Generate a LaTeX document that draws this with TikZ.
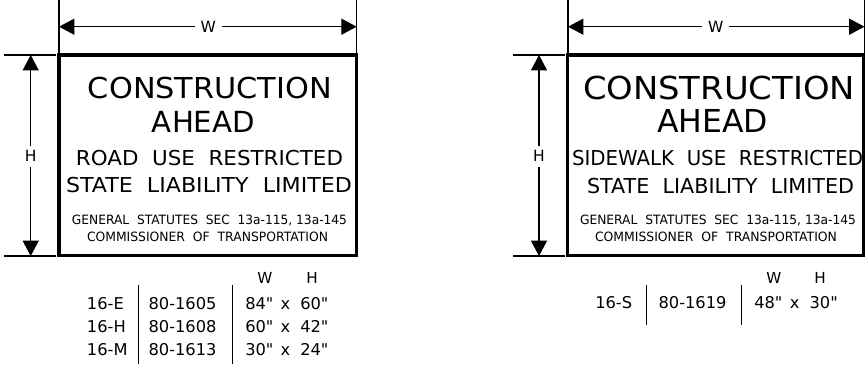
\documentclass[tikz,border=0pt]{standalone}
\usepackage{fontspec}
\setmainfont{DejaVu Sans}
\usepackage{graphicx}
\usetikzlibrary{arrows.meta}
\newdimen\pxu \pxu=0.75pt
\newcommand{\signline}[3]{\resizebox{#1\pxu}{\height}{\fontsize{#2}{#2}\selectfont #3}}
\font\tabfnt="DejaVu Sans" at 12.2pt
\begin{document}
\begin{tikzpicture}[x=0.75pt,y=-0.75pt,
  dimline/.style={line width=0.8pt},
  tip/.style={dimline,-{Triangle[length=11.5pt,width=12pt]}},
  signbox/.style={line width=2.4pt},
  dimlabel/.style={inner xsep=4pt,inner ysep=3.4pt,font=\fontsize{11.6}{11.6}\selectfont},
  txt/.style={anchor=base,inner sep=0pt},
  tab/.style={anchor=base west,inner sep=0pt,font=\tabfnt},
  tabc/.style={anchor=base,inner sep=0pt,font=\tabfnt},
  head/.style={anchor=base,inner sep=0pt,font=\fontsize{11.4}{11.4}\selectfont}]
\useasboundingbox (0,0) rectangle (866,364);

% ---------------- left sign ----------------
\draw[signbox] (59,55) rectangle (356.5,255.5);
% width dimension
\coordinate (lwa) at (59,26.7);
\coordinate (lwb) at (356.7,26.7);
\node[dimlabel] (lw) at (208.3,26.7) {W};
\draw[tip] (lw.west) -- (lwa);
\draw[tip] (lw.east) -- (lwb);
\draw[dimline] (59,0) -- (59,53);
\draw[dimline] (356.7,0) -- (356.7,53);
% height dimension
\coordinate (lha) at (30.7,55);
\coordinate (lhb) at (30.7,256);
\node[dimlabel] (lh) at (30.7,156.3) {H};
\draw[tip] (lh.north) -- (lha);
\draw[tip] (lh.south) -- (lhb);
\draw[dimline] (4,55) -- (56,55);
\draw[dimline] (4,256) -- (56,256);
% sign text
\node[txt] (l1) at (210,98) {\signline{244}{21.6}{CONSTRUCTION}};
\node[txt] (l2) at (203.5,132) {\signline{103}{21.8}{AHEAD}};
\node[txt] (l3) at (209.5,165.7) {\signline{267}{15.4}{ROAD~~USE~~RESTRICTED}};
\node[txt] (l4) at (209,192.7) {\signline{286}{15.4}{STATE~~LIABILITY~~LIMITED}};
\node[txt] (l5) at (209.5,224.3) {\signline{275}{9.6}{GENERAL~~STATUTES~~SEC~~13a-115,~13a-145}};
\node[txt] (l6) at (207.5,241) {\signline{241}{9.6}{COMMISSIONER~~OF~~TRANSPORTATION}};
% table
\node[head] (lW) at (265,283.3) {W};
\node[head] (lH) at (312,283.3) {H};
\draw[dimline] (138.3,285) -- (138.3,364);
\draw[dimline] (232.7,285) -- (232.7,364);
\node[tab] (le1) at (86.7,309.3) {16-E};
\node[tab] (le2) at (86.7,332.5) {16-H};
\node[tab] (le3) at (86.7,355.7) {16-M};
\node[tab] (ln1) at (148.3,309.3) {80-1605};
\node[tab] (ln2) at (148.3,332.5) {80-1608};
\node[tab] (ln3) at (148.3,355.7) {80-1613};
\node[tab] (lw1) at (245,309.3) {84"};
\node[tab] (lw2) at (245,332.5) {60"};
\node[tab] (lw3) at (245,355.7) {30"};
\node[tabc] (lx1) at (285.4,309.3) {x};
\node[tabc] (lx2) at (285.4,332.5) {x};
\node[tabc] (lx3) at (285.4,355.7) {x};
\node[tab] (lh1) at (300,309.3) {60"};
\node[tab] (lh2) at (300,332.5) {42"};
\node[tab] (lh3) at (300,355.7) {24"};

% ---------------- right sign ----------------
\draw[signbox] (567.7,55) rectangle (863.3,255.5);
\coordinate (rwa) at (568,26.7);
\coordinate (rwb) at (864.5,26.7);
\node[dimlabel] (rw) at (715.7,26.7) {W};
\draw[tip] (rw.west) -- (rwa);
\draw[tip] (rw.east) -- (rwb);
\draw[dimline] (568,0) -- (568,53);
\draw[dimline] (864.5,0) -- (864.5,53);
\coordinate (rha) at (539,55);
\coordinate (rhb) at (539,256);
\node[dimlabel] (rh) at (539,156.3) {H};
\draw[tip] (rh.north) -- (rha);
\draw[tip] (rh.south) -- (rhb);
\draw[dimline] (513,55) -- (565,55);
\draw[dimline] (513,256) -- (565,256);
\node[txt] (r1) at (719,99) {\signline{272}{23.7}{CONSTRUCTION}};
\node[txt] (r2) at (712.5,132.3) {\signline{111}{23.7}{AHEAD}};
\node[txt] (r3) at (717.5,165.7) {\signline{291}{15.4}{SIDEWALK~~USE~~RESTRICTED}};
\node[txt] (r4) at (720.5,193.3) {\signline{267}{15.4}{STATE~~LIABILITY~~LIMITED}};
\node[txt] (r5) at (718,224) {\signline{276}{9.6}{GENERAL~~STATUTES~~SEC~~13a-115,~13a-145}};
\node[txt] (r6) at (716,241) {\signline{242}{9.6}{COMMISSIONER~~OF~~TRANSPORTATION}};
\node[head] (rW) at (774,283.3) {W};
\node[head] (rH) at (820,283.3) {H};
\draw[dimline] (646.7,285) -- (646.7,325);
\draw[dimline] (741.7,285) -- (741.7,325);
\node[tab] (rs1) at (595,308.3) {16-S};
\node[tab] (rn1) at (658.3,308.3) {80-1619};
\node[tab] (rw1) at (754,308.3) {48"};
\node[tabc] (rx1) at (794.7,308.3) {x};
\node[tab] (rh1) at (809.3,308.3) {30"};
\end{tikzpicture}
\end{document}
